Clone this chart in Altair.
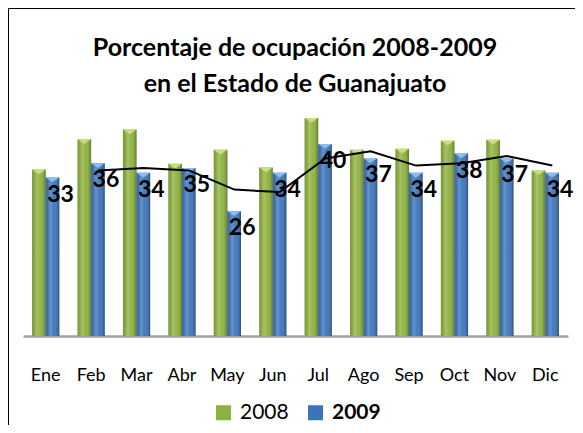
import altair as alt
import pandas as pd

months = ["Ene", "Feb", "Mar", "Abr", "May", "Jun", "Jul", "Ago", "Sep", "Oct", "Nov", "Dic"]
series_names = ["2008", "2009"]
v2008 = [34.7, 41.0, 43.0, 35.9, 38.8, 35.1, 45.4, 38.8, 39.0, 40.7, 40.9, 34.5]
v2009 = [33, 36, 34, 35, 26, 34, 40, 37, 34, 38, 37, 34]
title_lines = ["Porcentaje de ocupación 2008-2009", "en el Estado de Guanajuato"]

rows = []
for i, m in enumerate(months):
    rows.append({"month": m, "order": i, "series": "2008", "value": v2008[i]})
    rows.append({"month": m, "order": i, "series": "2009", "value": v2009[i]})
df = pd.DataFrame(rows)

FONT = "Lato"
GREEN = "#8DB23C"
BLUE = "#3B74BC"
GREEN_TOP = "#C8E07A"
BLUE_TOP = "#8DBDF0"

x_enc = alt.X(
    "month:N",
    sort=months,
    scale=alt.Scale(paddingInner=0.4, paddingOuter=0.2),
    axis=alt.Axis(
        title=None,
        labelAngle=0,
        labelFont=FONT,
        labelFontSize=18,
        labelColor="black",
        labelPadding=30,
        ticks=False,
        domainColor="#A0A0A0",
        domainWidth=2.5,
        grid=False,
    ),
)
xoff = alt.XOffset("series:N", sort=series_names, scale=alt.Scale(paddingInner=0, paddingOuter=0))
y_enc = alt.Y("value:Q", scale=alt.Scale(domain=[0, 50]), axis=None)

base = alt.Chart(df)

bars = base.mark_bar().encode(
    x=x_enc,
    xOffset=xoff,
    y=y_enc,
    color=alt.Color(
        "series:N",
        scale=alt.Scale(domain=series_names, range=[GREEN, BLUE]),
        legend=alt.Legend(
            title=None,
            orient="none",
            legendX=190,
            legendY=306,
            direction="horizontal",
            symbolType="square",
            symbolSize=225,
            symbolStrokeWidth=0,
            labelFont=FONT,
            labelFontSize=21,
            labelColor="black",
            labelOffset=6,
            columnPadding=16,
            labelFontWeight=alt.ExprRef(expr="datum.label == '2009' ? 'bold' : 'normal'"),
        ),
    ),
)

shade = base.mark_bar(
    fill=alt.Gradient(
        gradient="linear",
        x1=0, x2=1, y1=0, y2=0,
        stops=[
            alt.GradientStop(color="rgba(0,0,0,0.15)", offset=0),
            alt.GradientStop(color="rgba(255,255,255,0.22)", offset=0.35),
            alt.GradientStop(color="rgba(255,255,255,0.05)", offset=0.6),
            alt.GradientStop(color="rgba(0,0,0,0.32)", offset=1),
        ],
    )
).encode(x=alt.X("month:N", sort=months), xOffset=xoff, y=y_enc)

tops = base.mark_point(
    shape="M-1,0L1,0L0,0.7Z", filled=True, size=180, opacity=1, strokeWidth=0
).encode(
    x=alt.X("month:N", sort=months),
    xOffset=xoff,
    y=y_enc,
    fill=alt.Fill("series:N", scale=alt.Scale(domain=series_names, range=[GREEN_TOP, BLUE_TOP]), legend=None),
)

trend = (
    base.transform_filter("datum.series == '2009'")
    .transform_window(ma="mean(value)", frame=[-1, 0], sort=[alt.SortField("order")])
    .transform_filter("datum.order > 0")
    .mark_line(color="black", strokeWidth=2, xOffset=7)
    .encode(x=alt.X("month:N", sort=months), y=alt.Y("ma:Q", scale=alt.Scale(domain=[0, 50]), axis=None),
            order="order:Q")
)

labels = (
    base.transform_filter("datum.series == '2009'")
    .mark_text(font=FONT, fontSize=23, fontWeight="bold", color="black", dx=8, dy=17, baseline="middle")
    .encode(x=alt.X("month:N", sort=months), xOffset=xoff, y=y_enc, text="value:Q")
)

one = alt.Chart(pd.DataFrame({"a": [0]}))
left_border = one.mark_rule(color="black", strokeWidth=1).encode(
    x=alt.value(-14.5), y=alt.value(-87.5), y2=alt.value(330)
)
top_border = one.mark_rule(color="black", strokeWidth=1).encode(
    x=alt.value(-14.5), x2=alt.value(560), y=alt.value(-87.5)
)
title = one.mark_text(
    text=title_lines,
    font=FONT,
    fontSize=25,
    fontWeight="bold",
    lineHeight=36,
    align="center",
    baseline="alphabetic",
    color="black",
).encode(x=alt.value(272), y=alt.value(-40))

chart = (
    alt.layer(bars, shade, tops, trend, labels, left_border, top_border, title)
    .properties(
        width=545,
        height=240,
        autosize="none",
        padding={"left": 15, "top": 88, "right": 7, "bottom": 89},
        background="white",
    )
    .configure_view(stroke=None)
)

chart.save("out.html", embed_options={"renderer": "svg", "actions": False})
